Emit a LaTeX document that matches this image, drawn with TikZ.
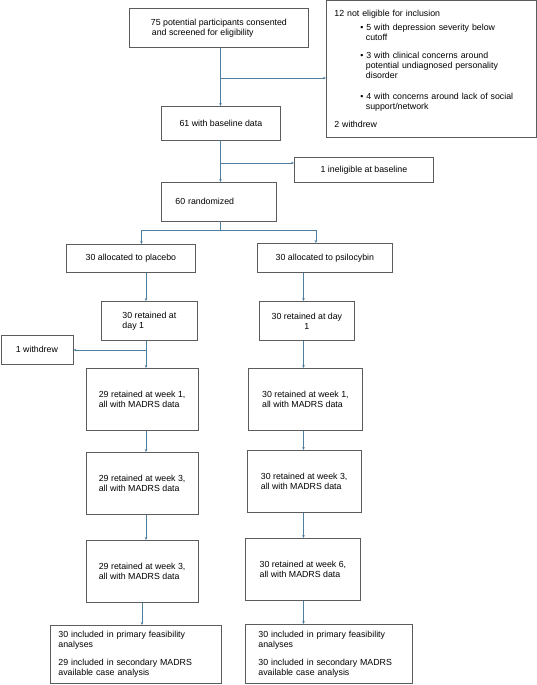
\documentclass[tikz,border=0pt]{standalone}
\usepackage{fontspec}
\setmainfont{Liberation Sans}
\usepackage{tikz}
\usetikzlibrary{arrows.meta}

\definecolor{boxgray}{HTML}{5C5C5C}
\definecolor{arrblue}{HTML}{4E7FA0}

\begin{document}
\begin{tikzpicture}[x=1pt, y=-1pt,
  box/.style={draw=boxgray, line width=0.8pt, anchor=north west, align=left,
    font=\fontsize{8.8}{10}\selectfont, inner sep=0pt},
  arr/.style={draw=arrblue, line width=0.7pt, -{Stealth[length=3pt,width=2.6pt]}},
  link/.style={draw=arrblue, line width=0.7pt}]
\useasboundingbox (0,0) rectangle (536,685);

\node[box, minimum width=179pt, minimum height=39.5pt] (b75) at (129,8) {75 potential participants consented\\ \hspace*{1pt}and screened for eligibility};
\node[box, text width=194pt, inner xsep=8pt, minimum height=137pt] (bnot) at (326,0) {12 not eligible for inclusion\\[4pt]
\hspace*{26pt}\textbullet\ 5 with depression severity below\\
\hspace*{31.5pt}cutoff\\[8pt]
\hspace*{26pt}\textbullet\ 3 with clinical concerns around\\
\hspace*{31.5pt}potential undiagnosed personality\\
\hspace*{31.5pt}disorder\\[11pt]
\hspace*{26pt}\textbullet\ 4 with concerns around lack of social\\
\hspace*{31.5pt}support/network\\[8pt]
2 withdrew};
\node[box, minimum width=119pt, minimum height=33.5pt] (b61) at (161,106) {61 with baseline data};
\node[box, minimum width=139pt, minimum height=25pt] (bin) at (294,157) {1 ineligible at baseline};
\node[box, text width=87pt, inner xsep=14pt, minimum height=38.5pt] (b60) at (161,182) {60 randomized};

\node[box, minimum width=129pt, minimum height=28pt] (pla) at (66,244) {30 allocated to placebo};
\node[box, minimum width=135pt, minimum height=29pt] (psi) at (257,243) {30 allocated to psilocybin};
\node[box, minimum width=96pt, minimum height=39pt] (d1l) at (101,301) {30 retained at\\day 1};
\node[box, align=center, minimum width=95pt, minimum height=39pt] (d1r) at (259,301) {30 retained at day\\1};
\node[box, minimum width=72pt, minimum height=28.6pt] (wd) at (0.5,335) {1 withdrew};

\node[box, minimum width=112.5pt, minimum height=62pt] (w1l) at (85.5,368) {29 retained at week 1,\\all with MADRS data};
\node[box, minimum width=114pt, minimum height=62pt] (w1r) at (248,368) {30 retained at week 1,\\all with MADRS data};
\node[box, minimum width=112.5pt, minimum height=62pt] (w3l) at (85.5,452) {29 retained at week 3,\\all with MADRS data};
\node[box, minimum width=114.5pt, minimum height=62pt] (w3r) at (246.5,450) {30 retained at week 3,\\all with MADRS data};
\node[box, minimum width=112.5pt, minimum height=62pt] (w3bl) at (85.5,540) {29 retained at week 3,\\all with MADRS data};
\node[box, minimum width=115pt, minimum height=62pt] (w6r) at (245,538) {30 retained at week 6,\\all with MADRS data};

\node[box, text width=154pt, inner xsep=8.5pt, minimum height=58pt] (fl) at (49.5,625) {30 included in primary feasibility\\analyses\\[8pt]29 included in secondary MADRS\\available case analysis};
\node[box, text width=140.5pt, inner xsep=13pt, minimum height=59pt] (fr) at (245,624) {30 included in primary feasibility\\analyses\\[8pt]30 included in secondary MADRS\\available case analysis};

\coordinate (lcol) at (146,0);
\coordinate (lcolb) at (142,0);
\coordinate (rcol) at (303.5,0);
\coordinate (s1) at (220.5,78);
\coordinate (s2) at (220.5,163);
\coordinate (s3) at (220.5,230);
\coordinate (s4) at (146,350);

\draw[arr] (b75.south -| s1) -- (b61.north -| s1);
\draw[arr] (s1) -- (s1 -| bnot.west);
\draw[arr] (b61.south -| s2) -- (b60.north -| s2);
\draw[arr] (s2) -- (s2 -| bin.west);
\draw[link] (b60.south -| s3) -- (s3);
\draw[arr] (s3) -| ([xshift=10.5pt]pla.north);
\draw[arr] (s3) -| ([xshift=-9pt]psi.north);

\draw[arr] (pla.south -| lcol) -- (d1l.north -| lcol);
\draw[arr] (psi.south -| rcol) -- (d1r.north -| rcol);
\draw[arr] (d1l.south -| lcol) -- (w1l.north -| lcol);
\draw[arr] (s4) -- (s4 -| wd.east);
\draw[arr] (d1r.south -| rcol) -- (w1r.north -| rcol);
\draw[arr] (w1l.south -| lcol) -- (w3l.north -| lcol);
\draw[arr] (w1r.south -| rcol) -- (w3r.north -| rcol);
\draw[arr] (w3l.south -| lcol) -- (w3bl.north -| lcol);
\draw[arr] (w3r.south -| rcol) -- (w6r.north -| rcol);
\draw[arr] (w3bl.south -| lcolb) -- (fl.north -| lcolb);
\draw[arr] (w6r.south -| rcol) -- (fr.north -| rcol);
\end{tikzpicture}
\end{document}
